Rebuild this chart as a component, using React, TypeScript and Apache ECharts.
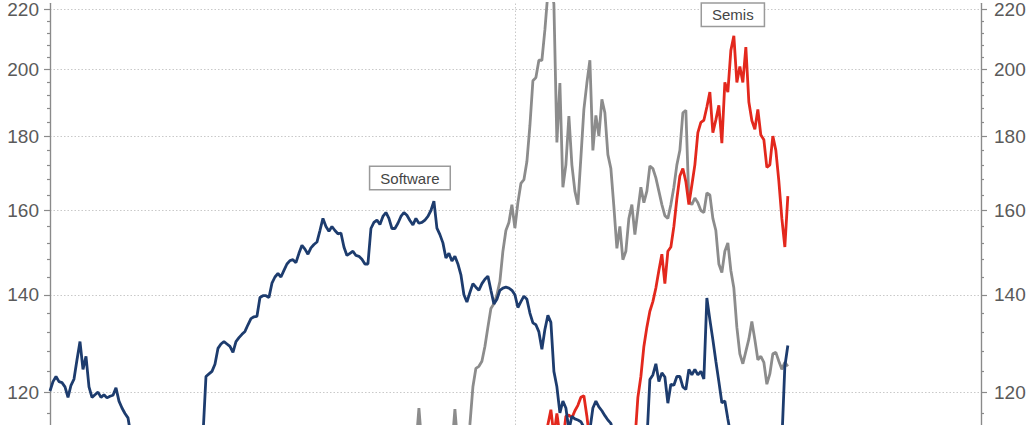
import React, { useEffect, useRef } from "react";
import * as echarts from "echarts";

// ---- axis values ----
const yTickValues = [120, 140, 160, 180, 200, 220];
const yMinorTickValues = [116, 124, 128, 132, 136, 144, 148, 152, 156, 164, 168, 172, 176, 184, 188, 192, 196, 204, 208, 212, 216];
const yRange = [113.9, 222.1];
const xSpan = 310.4; // index span of the (hidden) time axis; mid split line at half

// ---- series values (one point per period) ----
const softwareValues = [
  120.2, 122, 123, 122, 121.8, 121, 119, 121.3, 122.5, 126.3,
  130, 124.4, 127, 121, 119, 119.5, 120, 119, 119.5, 118.9,
  119.2, 119.4, 120.8, 118.3, 117, 116, 115.2, 112, 109, 108,
  107, 108, 106, 107, 105, 106, 107, 105, 104, 106,
  105, 107, 106, 108, 107, 109, 108, 107, 109, 108,
  109, 112, 123, 123.5, 124, 125.4, 128.6, 129.5, 130, 129.5,
  129, 127.8, 130, 130.8, 131.5, 132.1, 133.5, 134.8, 135.2, 135.3,
  139.4, 139.8, 139.8, 139.4, 142.6, 144, 144.8, 144, 145.5, 147,
  147.8, 148, 147.3, 149.5, 151.4, 150.5, 149.3, 150.8, 151.6, 152.2,
  155, 158, 156, 154.8, 156, 155, 154.2, 154.4, 151, 149,
  149.5, 150, 149, 148.8, 148.1, 147, 147, 155.5, 157, 157.6,
  156.5, 158.5, 159.5, 158, 155.5, 155.5, 156.8, 158.5, 159.5, 158.8,
  157.5, 156.4, 158, 156.8, 157, 157.6, 158.5, 160, 162.4, 155.6,
  154, 152, 148.4, 149.5, 147.7, 148.8, 147, 144.5, 140, 138.4,
  140.5, 142.5, 141.7, 141, 142.5, 143.5, 144.2, 141, 138, 139,
  141, 141.5, 141.7, 141.5, 141, 140, 137.2, 138.5, 139.7, 139,
  136, 133.9, 133.5, 132, 128.4, 132.5, 135.5, 134, 124, 121,
  116.1, 118.3, 117, 113, 115.5, 115, 114.8, 114.5, 113.5, 112,
  113, 117, 118.3, 117.2, 116.5, 115.6, 114.8, 114.2, 112, 110,
  108, 107, 106, 105, 106, 104, 105, 107, 108, 111,
  122.4, 123.3, 125.5, 122, 123.7, 122.9, 117.9, 121.5, 121.3, 123,
  123, 121, 120.5, 124.4, 123.3, 124.4, 123.3, 124, 122.5, 139.3,
  134.6, 130.4, 126, 122, 118, 118.3, 115, 112, 109, 107,
  105, 104, 103, 102, 101, 100, 101, 100, 99, 100,
  101, 103, 105, 107, 111, 125, 129.2,
];

const grayOffset = 100;
const grayValues = [
  108, 107, 108, 109, 108, 107, 108, 109, 110, 109,
  108, 107, 108, 109, 110, 109, 108, 109, 110, 109,
  110, 111, 110, 117, 110, 109, 108, 109, 108, 109,
  110, 109, 108, 110, 110, 116.8, 110, 109, 110, 111,
  114, 121, 124.6, 125, 126, 129, 133, 137, 138, 140,
  143, 150, 155, 157, 161.5, 155.6, 162, 167, 168, 172.9,
  183, 196.5, 197.5, 203, 203, 213, 226, 228, 222, 178.2,
  195.8, 166, 172, 185.8, 172, 165, 161.5, 174, 187.8, 195.8,
  203, 176, 186, 180, 190.8, 186.8, 174.8, 171, 161, 150.7,
  156, 148, 150, 158, 161.5, 154, 160, 166, 162, 165,
  171.7, 171, 168.5, 165, 161.5, 158.7, 158, 161.5, 166, 172,
  176, 186.8, 187.5, 162.4, 161.5, 163.2, 162, 160, 159.5, 164.5,
  164, 158, 155, 147, 145, 150, 152, 145.5, 141.5, 133,
  127.5, 125.5, 128, 130.5, 134.2, 130.4, 126.3, 127, 125.8, 121.5,
  123.5, 127.5, 127.8, 126, 124.4, 125.8, 125,
];

const semisOffset = 160;
const semisValues = [
  108, 107, 108, 107, 108, 109, 114, 116.7, 112, 116,
  112, 111, 115.5, 115.7, 115.2, 116.5, 117.5, 119, 119.3, 115.5,
  111, 109, 108, 107, 108, 107, 106, 107, 108, 107,
  106, 107, 108, 107, 108, 111, 119, 123, 129, 133,
  136.4, 138.5, 141.5, 145.5, 149.3, 142.5, 150, 151, 156, 163,
  169, 171, 167.5, 161.5, 166.6, 172, 181, 184, 184.6, 188.5,
  193, 181, 184.7, 189, 178, 196, 193, 206.2, 211, 196,
  201, 196, 207.3, 190, 184.5, 182, 187.8, 180.3, 179, 171.3,
  172, 180, 176, 167.6, 158, 151, 163.7,
];

const labelSoftware = "Software";
const labelSemis = "Semis";

const NAVY = "#1d3c6e";
const GRAY = "#8c8c8c";
const RED = "#e3281d";
const AXIS_COLOR = "#8a8a8a";
const TEXT_COLOR = "#5a5a5a";
const FONT = "Liberation Sans, Arial, sans-serif";

const toPoints = (values: number[], offset: number) =>
  values.map((v, i) => [i + offset, Math.log(v)]);

function makeYAxis(position: "left" | "right", major: boolean) {
  const lnMin = Math.log(yRange[0]);
  const lnMax = Math.log(yRange[1]);
  const values = (major ? yTickValues : yMinorTickValues).map((v) => Math.log(v));
  return {
    type: "value",
    position,
    min: lnMin,
    max: lnMax,
    axisLine: { show: true, lineStyle: { color: AXIS_COLOR, width: 1.2 } },
    axisTick: {
      show: true,
      inside: false,
      length: major ? 6 : 3,
      customValues: values,
      lineStyle: { color: AXIS_COLOR, width: 1.2 },
    },
    axisLabel: {
      show: major,
      customValues: values,
      margin: position === "left" ? 11 : 13,
      color: TEXT_COLOR,
      fontSize: 19,
      fontFamily: FONT,
      formatter: (v: number) => String(Math.round(Math.exp(v))),
    },
    splitLine: {
      show: major && position === "left",
      lineStyle: { color: "#c9c9c9", type: [1.5, 2], width: 1 },
    },
    minorTick: { show: false },
  };
}

function boxLabel(text: string, offset: number[]) {
  return {
    show: true,
    position: "inside",
    formatter: text,
    offset,
    backgroundColor: "#ffffff",
    borderColor: "#9a9a9a",
    borderWidth: 1.5,
    padding: [4, 10, 3, 10],
    color: "#454545",
    fontSize: 15,
    fontFamily: FONT,
  };
}

export default function App() {
  const ref = useRef<HTMLDivElement>(null);

  useEffect(() => {
    if (!ref.current) return;
    const chart = echarts.init(ref.current, undefined, { renderer: "svg" });
    chart.setOption({
      animation: false,
      backgroundColor: "#ffffff",
      grid: { left: 50, right: 54, top: 0, bottom: 0, containLabel: false },
      xAxis: {
        type: "value",
        min: 0,
        max: xSpan,
        interval: xSpan / 2,
        axisLine: { show: false },
        axisTick: { show: false },
        axisLabel: { show: false },
        splitLine: { show: true, lineStyle: { color: "#c9c9c9", type: [1.5, 2], width: 1 } },
      },
      yAxis: [
        makeYAxis("left", true),
        makeYAxis("left", false),
        makeYAxis("right", true),
        makeYAxis("right", false),
      ],
      series: [
        {
          name: "Gray",
          type: "line",
          data: toPoints(grayValues, grayOffset),
          showSymbol: false,
          symbol: "none",
          clip: true,
          lineStyle: { color: GRAY, width: 2.8 },
          z: 2,
        },
        {
          name: labelSemis,
          type: "line",
          data: toPoints(semisValues, semisOffset),
          showSymbol: false,
          symbol: "none",
          clip: true,
          lineStyle: { color: RED, width: 2.8 },
          z: 3,
          markPoint: {
            symbol: "circle",
            symbolSize: 1,
            itemStyle: { color: "rgba(0,0,0,0)" },
            data: [{ type: "max", label: boxLabel(labelSemis, [-1, -21]) }],
          },
        },
        {
          name: labelSoftware,
          type: "line",
          data: toPoints(softwareValues, 0),
          showSymbol: false,
          symbol: "none",
          clip: true,
          lineStyle: { color: NAVY, width: 2.8 },
          z: 4,
          markPoint: {
            symbol: "circle",
            symbolSize: 1,
            itemStyle: { color: "rgba(0,0,0,0)" },
            data: [{ type: "max", label: boxLabel(labelSoftware, [-24, -23]) }],
          },
        },
      ],
    });
    return () => chart.dispose();
  }, []);

  return (
    <div
      ref={ref}
      style={{ position: "absolute", left: 0, top: 0, width: 1035, height: 425, background: "#fff" }}
    />
  );
}
